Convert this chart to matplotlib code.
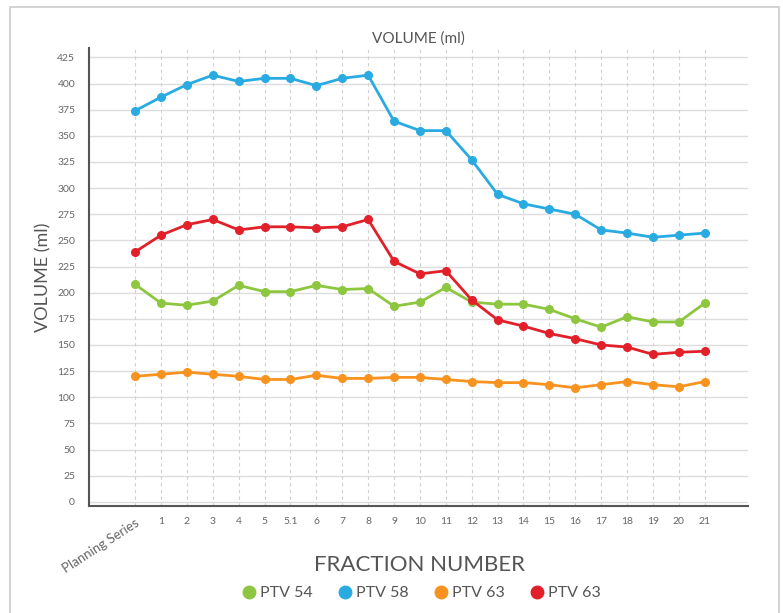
import matplotlib.pyplot as plt
from matplotlib.patches import Rectangle
from matplotlib.lines import Line2D

plt.rcParams['font.family'] = ['Lato', 'DejaVu Sans']

fractions = ["Planning Series", "1", "2", "3", "4", "5", "5.1", "6", "7", "8", "9",
             "10", "11", "12", "13", "14", "15", "16", "17", "18", "19", "20", "21"]
ptv54 = [208, 190, 188, 192, 207, 201, 201, 207, 203, 204, 187, 191, 205,
         191, 189, 189, 184, 175, 167, 177, 172, 172, 190]
ptv58 = [374, 387, 399, 408, 402, 405, 405, 398, 405, 408, 364, 355, 355,
         327, 294, 285, 280, 275, 260, 257, 253, 255, 257]
ptv63a = [120, 122, 124, 122, 120, 117, 117, 121, 118, 118, 119, 119, 117,
          115, 114, 114, 112, 109, 112, 115, 112, 110, 115]
ptv63b = [239, 255, 265, 270, 260, 263, 263, 262, 263, 270, 230, 218, 221,
          193, 174, 168, 161, 156, 150, 148, 141, 143, 144]

series = [("PTV 54", ptv54, "#8dc63f"),
          ("PTV 58", ptv58, "#29abe2"),
          ("PTV 63", ptv63a, "#f7931e"),
          ("PTV 63", ptv63b, "#e2202a")]

fig = plt.figure(figsize=(7.83, 6.13), dpi=100)
ax = fig.add_axes([89 / 783, 1 - 506 / 613, (748 - 89) / 783, (506 - 48) / 613])

x = list(range(len(fractions)))
for label, values, color in series:
    ax.plot(x, values, color=color, lw=2, marker="o", ms=5.5, label=label, zorder=3)

ax.set_xlim(-1.78, 23.67)
ax.set_ylim(-4, 434)
ax.set_yticks(range(0, 426, 25))
ax.set_xticks(x)
ax.set_xticklabels(fractions)
ax.tick_params(length=0, labelsize=7.5, colors="#666666")
ax.tick_params(axis="x", pad=8)
ax.tick_params(axis="y", pad=10)
lbl = ax.get_xticklabels()[0]
lbl.set_rotation(33)
lbl.set_ha("right")
lbl.set_va("top")
lbl.set_fontsize(9.5)
lbl.set_rotation_mode("anchor")

for v in range(0, 426, 25):
    ax.axhline(v, color="#dddddd", lw=1, zorder=1)
for xi in x:
    ax.axvline(xi, color="#d0d0d0", lw=0.8, ls=(0, (3, 3)), zorder=1)

for s in ["top", "right"]:
    ax.spines[s].set_visible(False)
for s in ["left", "bottom"]:
    ax.spines[s].set_color("#555555")
    ax.spines[s].set_linewidth(1.5)

ax.set_title("VOLUME (ml)", fontsize=11, color="#555555", pad=4, x=0.5)
ax.set_ylabel("VOLUME (ml)", fontsize=13, color="#555555", labelpad=4)
fig.text(420 / 783, 1 - 565 / 613, "FRACTION NUMBER", fontsize=16, color="#555555",
         ha="center", va="center")

handles = [Line2D([], [], ls="none", marker="o", ms=9, color=c) for _, _, c in series]
fig.legend(handles, [s[0] for s in series], loc="center", ncol=4, frameon=False,
           bbox_to_anchor=(421 / 783, 1 - 593 / 613), fontsize=11.5, labelcolor="#555555",
           handletextpad=0.2, columnspacing=1.5, handlelength=1)

fig.patches.append(Rectangle((10 / 783, -0.01), (779 - 10) / 783, 1 - 7 / 613 + 0.01,
                             transform=fig.transFigure, fill=False,
                             edgecolor="#cccccc", lw=1.2))

fig.savefig("out.png", dpi=100)
